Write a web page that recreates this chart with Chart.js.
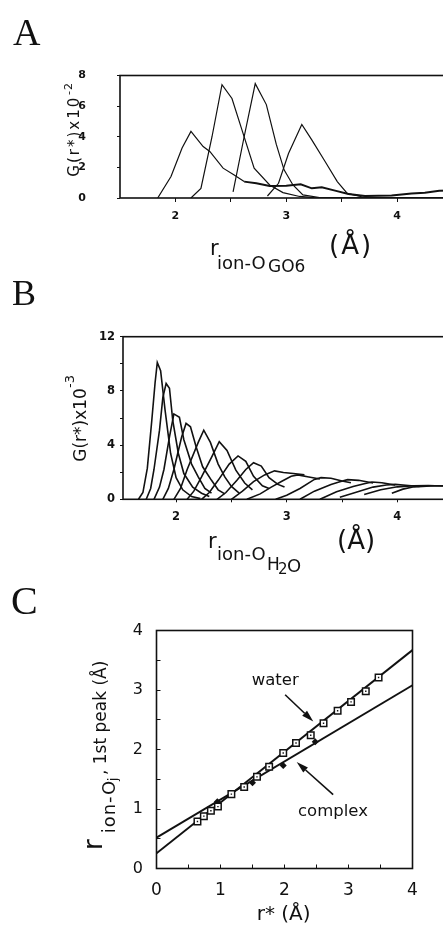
<!DOCTYPE html>
<html>
<head>
<meta charset="utf-8">
<script src="https://cdn.jsdelivr.net/npm/chart.js@4.4.1/dist/chart.umd.min.js"></script>
<style>
  html, body { margin: 0; padding: 0; background: #fff; width: 443px; height: 927px; overflow: hidden; position: relative; }
  canvas { position: absolute; left: 0; }
  svg { position: absolute; left: 0; top: 0; }
  svg text { font-family: "DejaVu Sans", sans-serif; fill: #111; }
  svg text.panel { font-family: "Liberation Serif", "DejaVu Serif", serif; }
</style>
</head>
<body>
<canvas id="chartA" width="520" height="280" style="top:0px"></canvas>
<canvas id="chartB" width="520" height="300" style="top:280px"></canvas>
<canvas id="chartC" width="443" height="347" style="top:580px"></canvas>

<svg width="443" height="927">
  <!-- panel letters -->
  <text class="panel" x="13" y="45" font-size="38">A</text>
  <text class="panel" x="12" y="305" font-size="36">B</text>
  <text class="panel" x="11" y="614" font-size="40">C</text>

  <!-- A axis titles -->
  <text x="210" y="255" font-size="21">r</text>
  <text x="217" y="268.7" font-size="18">ion-O</text>
  <text x="268" y="272" font-size="17">GO6</text>
  <text x="329" y="254" font-size="26" letter-spacing="2">(Å)</text>
  <text transform="translate(79,176.7) rotate(-90)" font-size="15" letter-spacing="2">G(r*)x10</text>
  <text transform="translate(72,95) rotate(-90)" font-size="11" letter-spacing="1">-2</text>

  <!-- B axis titles -->
  <text x="208" y="548.3" font-size="21">r</text>
  <text x="217" y="560" font-size="18">ion-O</text>
  <text x="267" y="570" font-size="17">H</text>
  <text x="278" y="573.5" font-size="15">2</text>
  <text x="287" y="571.7" font-size="18">O</text>
  <text x="337" y="549" font-size="26">(Å)</text>
  <text transform="translate(86,461.7) rotate(-90)" font-size="17">G(r*)x10</text>
  <text transform="translate(74,388) rotate(-90)" font-size="13">-3</text>

  <!-- C axis titles and labels -->
  <text x="256.7" y="920.4" font-size="20">r* (Å)</text>
  <text transform="translate(101.7,850) rotate(-90)" font-size="26">r</text>
  <text transform="translate(115,833.3) rotate(-90)" font-size="18" letter-spacing="1">ion-O</text>
  <text transform="translate(117,781) rotate(-90)" font-size="12">j</text>
  <text transform="translate(106,775) rotate(-90)" font-size="17">, 1st peak (Å)</text>
  <text x="251.7" y="685" font-size="16.5">water</text>
  <text x="298" y="815.5" font-size="16.5">complex</text>
</svg>

<script>
// ---------- data ----------
// Panel A: G(r*) for ion-O(GO6), four first peaks (x10^-2)
const aCurve1 = [[1.84,0],[1.96,1.4],[2.06,3.26],[2.14,4.35],[2.25,3.36],[2.31,3.04],[2.43,1.95],[2.53,1.5],[2.62,1.07],[2.73,0.96],[2.85,0.78],[3.0,0.8],[3.13,0.9],[3.23,0.63],[3.32,0.7],[3.44,0.48],[3.56,0.26],[3.71,0.13],[3.95,0.17],[4.13,0.3],[4.25,0.35],[4.38,0.48],[4.6,0.5]];
const aCurve2 = [[2.14,0],[2.23,0.63],[2.33,4.0],[2.42,7.4],[2.51,6.5],[2.6,4.45],[2.71,1.95],[2.85,0.85],[2.97,0.35],[3.12,0.1],[3.25,0.02],[5,0]];
const aCurve3 = [[2.52,0.4],[2.62,4.0],[2.72,7.47],[2.82,6.1],[2.91,3.5],[2.98,1.84],[3.06,0.85],[3.15,0.2],[3.3,0.03],[5,0]];
const aCurve4 = [[2.83,0.13],[2.93,0.96],[3.02,2.9],[3.14,4.8],[3.23,3.8],[3.35,2.38],[3.46,1.07],[3.55,0.3],[3.68,0.08],[3.9,0],[5,0]];

// Panel B: G(r*) for ion-O(H2O) (x10^-3)
const b01 = [[1.66,0],[1.70,0.5],[1.74,2.3],[1.78,5.8],[1.81,8.6],[1.83,10.1],[1.86,9.5],[1.90,6.6],[1.95,3.4],[2.00,1.6],[2.06,0.7],[2.14,0.2],[2.22,0.05]];
const b02 = [[1.73,0],[1.77,0.8],[1.80,2.2],[1.85,5.1],[1.88,7.5],[1.91,8.55],[1.94,8.2],[1.97,5.8],[2.02,3.4],[2.07,1.9],[2.15,0.9],[2.23,0.45],[2.30,0.2]];
const b03 = [[1.80,0],[1.85,0.9],[1.89,2.2],[1.94,4.6],[1.98,6.3],[2.03,6.05],[2.07,4.4],[2.14,2.6],[2.20,1.65],[2.26,0.8],[2.32,0.45]];
const b04 = [[1.88,0],[1.93,0.8],[1.98,2.2],[2.05,4.6],[2.09,5.6],[2.13,5.35],[2.18,3.9],[2.24,2.4],[2.32,1.4],[2.38,0.7],[2.44,0.4]];
const b05 = [[1.98,0],[2.04,0.8],[2.10,2.2],[2.20,4.2],[2.25,5.1],[2.31,4.2],[2.38,2.6],[2.44,1.65],[2.50,0.95],[2.57,0.45]];
const b06 = [[2.10,0],[2.16,0.6],[2.23,1.65],[2.32,3.1],[2.39,4.25],[2.46,3.6],[2.54,2.15],[2.62,1.2],[2.69,0.7]];
const b07 = [[2.23,0],[2.30,0.5],[2.38,1.4],[2.48,2.6],[2.56,3.2],[2.63,2.8],[2.70,1.7],[2.78,1.0],[2.84,0.8]];
const b08 = [[2.37,0],[2.45,0.5],[2.55,1.4],[2.63,2.2],[2.70,2.7],[2.77,2.45],[2.84,1.6],[2.92,1.1],[2.98,0.9]];
const b09 = [[2.50,0],[2.60,0.6],[2.70,1.3],[2.80,1.8],[2.89,2.1],[2.97,1.98],[3.06,1.9],[3.16,1.8]];
const b10 = [[2.64,0],[2.76,0.4],[2.86,0.9],[2.96,1.35],[3.04,1.7],[3.10,1.8],[3.20,1.65],[3.30,1.5]];
const b11 = [[2.90,0],[3.00,0.3],[3.12,0.8],[3.25,1.47],[3.31,1.6],[3.40,1.55],[3.50,1.35],[3.58,1.22]];
const b12 = [[3.12,0],[3.25,0.6],[3.40,1.1],[3.48,1.3],[3.55,1.45],[3.65,1.4],[3.78,1.2]];
const b13 = [[3.30,0],[3.45,0.55],[3.60,0.95],[3.70,1.15],[3.77,1.28],[3.86,1.22],[3.98,1.05]];
const b14 = [[3.48,0.15],[3.62,0.5],[3.78,0.9],[3.90,1.05],[3.98,1.1],[4.10,1.02],[4.20,0.95]];
const b15 = [[3.70,0.35],[3.85,0.7],[4.00,0.92],[4.15,1.0],[4.28,1.02],[4.40,0.98],[4.60,0.97]];
const b16 = [[3.95,0.45],[4.05,0.75],[4.15,0.92],[4.30,0.98],[4.45,1.0],[4.60,1.0]];
const bCurves = [b01,b02,b03,b04,b05,b06,b07,b08,b09,b10,b11,b12,b13,b14,b15,b16];

// Panel C: first-peak position vs r*
const waterX = [0.64,0.74,0.85,0.96,1.17,1.37,1.57,1.76,1.98,2.18,2.41,2.61,2.83,3.04,3.27,3.47];
const waterY = [0.79,0.88,0.97,1.04,1.25,1.37,1.54,1.71,1.94,2.11,2.24,2.44,2.65,2.80,2.98,3.21];
const complexX = [0.95,1.5,1.98,2.48];
const complexY = [1.12,1.44,1.73,2.13];
const waterFitX = [0, 4];
const waterFitY = [0.255, 3.67];
const complexFitX = [0, 4];
const complexFitY = [0.52, 3.08];

// tick values
const aTicksX = [2,2.5,3,3.5,4,4.5,5];
const aTicksY = [0,2,4,6,8];
const bTicksX = [2,2.5,3,3.5,4,4.5,5];
const bTicksY = [0,2,4,6,8,10,12];
const cTicksX = [0,0.5,1,1.5,2,2.5,3,3.5,4];
const cTicksY = [0,0.5,1,1.5,2,2.5,3,3.5,4];

// arrows in panel C (data coords: tail -> head)
const cArrows = [
  { from: [2.01, 2.92], to: [2.45, 2.47] },
  { from: [2.76, 1.24], to: [2.19, 1.79] }
];

// ---------- helpers ----------
const ink = '#111';
const pts = arr => arr.map(([x, y]) => ({ x, y }));
const zip = (xs, ys) => xs.map((x, i) => ({ x, y: ys[i] }));

// box around the plot area
const frame = {
  id: 'frame',
  afterDraw(chart) {
    const { ctx, chartArea: a } = chart;
    ctx.save();
    ctx.strokeStyle = ink;
    ctx.lineWidth = 1.6;
    ctx.strokeRect(a.left, a.top, a.right - a.left, a.bottom - a.top);
    ctx.restore();
  }
};

function scale(opts) {
  return {
    type: 'linear',
    min: opts.min,
    max: opts.max,
    afterBuildTicks: s => { s.ticks = opts.ticks.map(v => ({ value: v })); },
    afterFit: s => { if (opts.width) s.width = opts.width; if (opts.height) s.height = opts.height; },
    border: { display: false },
    grid: { drawOnChartArea: false, drawTicks: true, tickLength: opts.tickLength, color: ink, lineWidth: 1 },
    ticks: {
      autoSkip: false, maxRotation: 0, color: ink, padding: opts.padding,
      font: { family: 'DejaVu Sans', size: opts.size, weight: opts.weight || 'normal' },
      callback: opts.label
    }
  };
}

Chart.defaults.animation = false;

// ---------- panel A ----------
new Chart(document.getElementById('chartA'), {
  type: 'scatter',
  data: {
    datasets: [aCurve1, aCurve2, aCurve3, aCurve4].map((c, i) => ({
      data: pts(c), showLine: true, pointRadius: 0, borderColor: ink, borderWidth: 1.2,
      segment: i === 0 ? { borderWidth: ctx => ctx.p0.parsed.x >= 2.6 ? 2 : 1.2 } : undefined
    }))
  },
  options: {
    responsive: false,
    layout: { padding: { top: 75.5, right: 12, left: 0, bottom: 0 } },
    plugins: { legend: { display: false }, tooltip: { enabled: false } },
    scales: {
      x: scale({ min: 1.5, max: 5, ticks: aTicksX, height: 82, tickLength: 4, padding: 8, size: 11, weight: 'bold',
                 label: v => Number.isInteger(v) ? v : '' }),
      y: scale({ min: 0, max: 8, ticks: aTicksY, width: 120, tickLength: 3, padding: 31, size: 11, weight: 'bold',
                 label: v => v })
    }
  },
  plugins: [frame]
});

// ---------- panel B ----------
new Chart(document.getElementById('chartB'), {
  type: 'scatter',
  data: {
    datasets: bCurves.map(c => ({
      data: pts(c), showLine: true, pointRadius: 0, borderColor: ink, borderWidth: 1.6
    }))
  },
  options: {
    responsive: false,
    layout: { padding: { top: 56.7, right: 11.1, left: 0, bottom: 0 } },
    plugins: { legend: { display: false }, tooltip: { enabled: false } },
    scales: {
      x: scale({ min: 1.52, max: 5, ticks: bTicksX, height: 80.7, tickLength: 3, padding: 8, size: 11.5, weight: 'bold',
                 label: v => Number.isInteger(v) ? v : '' }),
      y: scale({ min: 0, max: 12, ticks: bTicksY, width: 123, tickLength: 3, padding: 5, size: 11.5, weight: 'bold',
                 label: v => v % 4 === 0 ? v : '' })
    }
  },
  plugins: [frame]
});

// ---------- panel C ----------
const arrows = {
  id: 'arrows',
  afterDatasetsDraw(chart) {
    const { ctx, scales: { x, y } } = chart;
    ctx.save();
    ctx.strokeStyle = ink;
    ctx.fillStyle = ink;
    ctx.lineWidth = 1.6;
    cArrows.forEach(a => {
      const x0 = x.getPixelForValue(a.from[0]), y0 = y.getPixelForValue(a.from[1]);
      const x1 = x.getPixelForValue(a.to[0]), y1 = y.getPixelForValue(a.to[1]);
      const ang = Math.atan2(y1 - y0, x1 - x0);
      const len = 12, half = 3.5;
      const bx = x1 - len * Math.cos(ang), by = y1 - len * Math.sin(ang);
      ctx.beginPath();
      ctx.moveTo(x0, y0);
      ctx.lineTo(bx, by);
      ctx.stroke();
      ctx.beginPath();
      ctx.moveTo(x1, y1);
      ctx.lineTo(bx + half * Math.sin(ang), by - half * Math.cos(ang));
      ctx.lineTo(bx - half * Math.sin(ang), by + half * Math.cos(ang));
      ctx.closePath();
      ctx.fill();
    });
    ctx.restore();
  }
};

new Chart(document.getElementById('chartC'), {
  type: 'scatter',
  data: {
    datasets: [
      { data: zip(waterX, waterY), pointStyle: 'rect', pointRadius: 4.6, borderWidth: 1.5,
        borderColor: ink, backgroundColor: '#fff', order: 0 },
      { data: zip(waterX, waterY), pointStyle: 'rect', pointRadius: 1, borderWidth: 0,
        backgroundColor: ink, order: -1 },
      { data: zip(complexX, complexY), pointStyle: 'rectRot', pointRadius: 3.5, borderWidth: 0,
        backgroundColor: ink, order: 0 },
      { data: zip(waterFitX, waterFitY), showLine: true, pointRadius: 0, borderColor: ink, borderWidth: 2, order: 1 },
      { data: zip(complexFitX, complexFitY), showLine: true, pointRadius: 0, borderColor: ink, borderWidth: 2, order: 1 }
    ]
  },
  options: {
    responsive: false,
    layout: { padding: { top: 50.5, right: 30.5, left: 0, bottom: 0 } },
    plugins: { legend: { display: false }, tooltip: { enabled: false } },
    scales: {
      x: scale({ min: 0, max: 4, ticks: cTicksX, height: 58.5, tickLength: -4, padding: 16, size: 17,
                 label: v => Number.isInteger(v) ? v : '' }),
      y: scale({ min: 0, max: 4, ticks: cTicksY, width: 156.5, tickLength: -4, padding: 17.5, size: 16,
                 label: v => Number.isInteger(v) ? v : '' })
    }
  },
  plugins: [frame, arrows]
});
</script>
</body>
</html>
